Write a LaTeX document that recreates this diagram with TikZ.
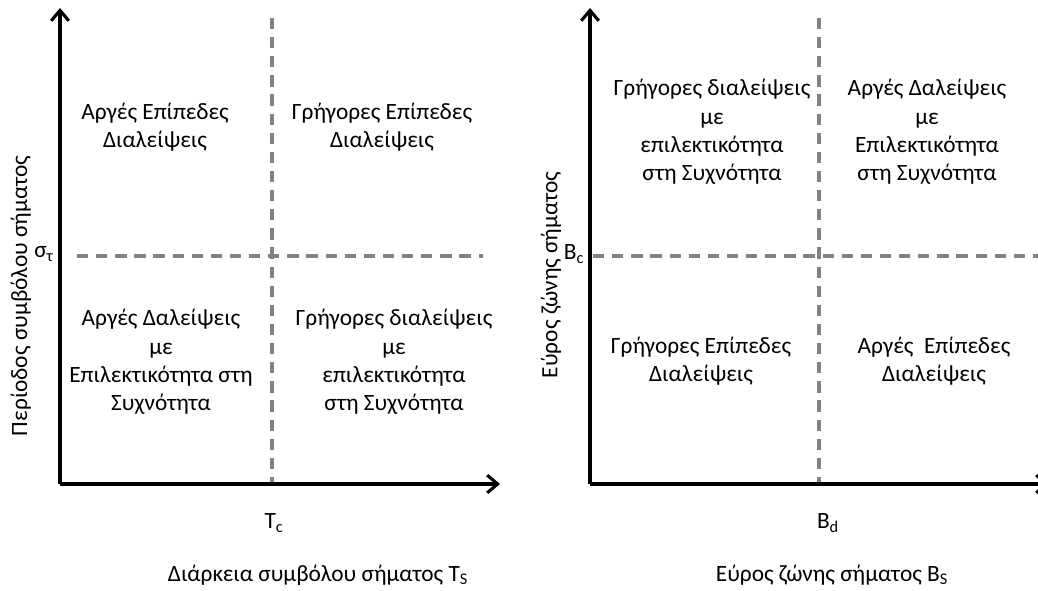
\documentclass[tikz,border=0pt]{standalone}
\usepackage{fontspec}
\setmainfont{Carlito}
\usepackage{tikz}
\usetikzlibrary{arrows.meta, positioning}
\definecolor{dashgray}{RGB}{130,130,130}

\begin{document}
\begin{tikzpicture}[
    x=0.025cm, y=0.025cm,
    quad/.style={align=center, font=\fontsize{16.6}{20.2}\selectfont},
    tick/.style={font=\fontsize{16.6}{19}\selectfont},
    axlabel/.style={font=\fontsize{16.6}{19}\selectfont},
    axis/.style={-{Straight Barb[length=2.6mm, width=4.4mm]}, line width=2.2pt},
    border/.style={dashgray, line width=2.3pt, dash pattern=on 8pt off 5.6pt}
]
\useasboundingbox (0,0) rectangle (1038,591);

% left panel
\coordinate (o1) at (60,107);
\coordinate (y1) at (60,583);
\coordinate (x1) at (500,107);
\coordinate (v1top) at (272,573);
\coordinate (v1bot) at (272,107);
\coordinate (h1l) at (77,335);
\coordinate (h1r) at (483,335);

\draw[border] (v1top) -- (v1bot);
\draw[border] (h1l) -- (h1r);
\draw[axis] (o1) -- (y1);
\draw[axis] (o1) -- (x1);

\node[tick] (sigma) at (44,337) {σ\textsubscript{τ}};
\node[tick] (tc) at (274,68) {T\textsubscript{c}};
\node[axlabel] (xlab1) at (318,16) {Διάρκεια συμβόλου σήματος T\textsubscript{S}};
\node[axlabel, rotate=90] (ylab1) at (21,295) {Περίοδος συμβόλου σήματος};

\node[quad] (slowflat1) at (155,464) {Αργές Επίπεδες\\Διαλείψεις};
\node[quad] (fastflat1) at (382,464) {Γρήγορες Επίπεδες\\Διαλείψεις};
\node[quad] (slowsel1) at (161,229) {Αργές Δαλείψεις\\με\\Επιλεκτικότητα στη\\Συχνότητα};
\node[quad] (fastsel1) at (394,229) {Γρήγορες διαλείψεις\\με\\επιλεκτικότητα\\στη Συχνότητα};

% right panel
\coordinate (o2) at (590,107);
\coordinate (y2) at (590,583);
\coordinate (x2) at (1049,107);
\coordinate (v2top) at (819,573);
\coordinate (v2bot) at (819,107);
\coordinate (h2l) at (593,335);
\coordinate (h2r) at (1038,335);

\draw[border] (v2top) -- (v2bot);
\draw[border] (h2l) -- (h2r);
\draw[axis] (o2) -- (y2);
\draw[axis] (o2) -- (x2);

\node[tick] (bc) at (574,337) {B\textsubscript{c}};
\node[tick] (bd) at (828,68) {B\textsubscript{d}};
\node[axlabel] (xlab2) at (832,16) {Εύρος ζώνης σήματος B\textsubscript{S}};
\node[axlabel, rotate=90] (ylab2) at (551,316) {Εύρος ζώνης σήματος};

\node[quad] (fastsel2) at (712,459) {Γρήγορες διαλείψεις\\με\\επιλεκτικότητα\\στη Συχνότητα};
\node[quad] (slowsel2) at (927,459) {Αργές Δαλείψεις\\με\\Επιλεκτικότητα\\στη Συχνότητα};
\node[quad] (fastflat2) at (701,230) {Γρήγορες Επίπεδες\\Διαλείψεις};
\node[quad] (slowflat2) at (934,230) {Αργές\ \ Επίπεδες\\Διαλείψεις};

\end{tikzpicture}
\end{document}
